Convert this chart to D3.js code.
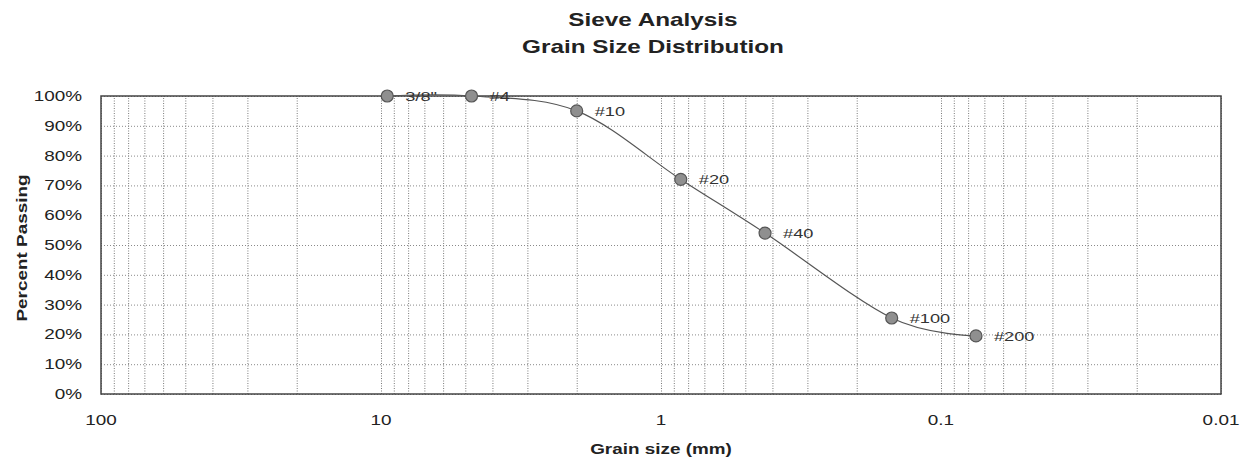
<!DOCTYPE html>
<html>
<head>
<meta charset="utf-8">
<script src="https://cdn.jsdelivr.net/npm/d3@7"></script>
<style>
  body { margin: 0; background: #fff; }
  svg { display: block; font-family: "Liberation Sans", Arial, sans-serif; }
</style>
</head>
<body>
<svg width="1250" height="472"></svg>
<script>
// sieve data
const sieves = ['3/8"', "#4", "#10", "#20", "#40", "#100", "#200"];
const grainSize = [9.5, 4.75, 2.0, 0.85, 0.425, 0.15, 0.075];
const percentPassing = [100, 100, 95, 72, 54, 25.5, 19.5];

const xTicks = [100, 10, 1, 0.1, 0.01];
const yTicks = [0, 10, 20, 30, 40, 50, 60, 70, 80, 90, 100];

const plotLeft = 101, plotRight = 1221, plotTop = 96, plotBottom = 394;
const stretch = 1.35;   // text in the scan is wide

const svg = d3.select("svg");

const x = d3.scaleLog().domain([100, 0.01]).range([plotLeft, plotRight]);
const y = d3.scaleLinear().domain([0, 100]).range([plotBottom, plotTop]);

// places text at (px,py) and stretches it horizontally
function stretched(sel, px, py) {
    return sel.attr("transform", (d, i) => `translate(${px(d, i)},${py(d, i)}) scale(${stretch},1)`);
}

// grid
svg.append("g")
    .attr("transform", `translate(0,${plotBottom})`)
    .call(d3.axisBottom(x).tickSize(-(plotBottom - plotTop)).tickFormat(""))
    .call(g => g.select(".domain").remove())
    .call(g => g.selectAll("line")
        .attr("stroke", "#7a7a7a")
        .attr("stroke-dasharray", "1,1.5"));

svg.append("g")
    .attr("transform", `translate(${plotLeft},0)`)
    .call(d3.axisLeft(y).tickValues(yTicks).tickSize(-(plotRight - plotLeft)).tickFormat(""))
    .call(g => g.select(".domain").remove())
    .call(g => g.selectAll("line")
        .attr("stroke", "#8a8a8a")
        .attr("stroke-dasharray", "1,2"));

// frame
svg.append("rect")
    .attr("x", plotLeft).attr("y", plotTop)
    .attr("width", plotRight - plotLeft).attr("height", plotBottom - plotTop)
    .attr("fill", "none")
    .attr("stroke", "#444")
    .attr("stroke-width", 1.5);

// tick labels
svg.append("g").selectAll("text")
    .data(yTicks)
    .join("text")
    .call(stretched, () => 82, d => y(d))
    .attr("text-anchor", "end")
    .attr("dy", "0.35em")
    .attr("font-size", 14)
    .attr("fill", "#222")
    .text(d => d + "%");

svg.append("g").selectAll("text")
    .data(xTicks)
    .join("text")
    .call(stretched, d => x(d), () => 420)
    .attr("text-anchor", "middle")
    .attr("dy", "0.35em")
    .attr("font-size", 14)
    .attr("fill", "#222")
    .text(d3.format("~g"));

// titles
svg.append("g").selectAll("text")
    .data(["Sieve Analysis", "Grain Size Distribution"])
    .join("text")
    .call(stretched, () => 653, (d, i) => 20 + i * 27)
    .attr("text-anchor", "middle")
    .attr("dy", "0.35em")
    .attr("font-size", 18)
    .attr("font-weight", "bold")
    .attr("fill", "#222")
    .text(d => d);

svg.append("text")
    .attr("transform", `translate(661,449) scale(${stretch},1)`)
    .attr("text-anchor", "middle")
    .attr("dy", "0.35em")
    .attr("font-size", 14)
    .attr("font-weight", "bold")
    .attr("fill", "#222")
    .text("Grain size (mm)");

svg.append("text")
    .attr("transform", `translate(22,248) rotate(-90) scale(${stretch},1)`)
    .attr("text-anchor", "middle")
    .attr("dy", "0.35em")
    .attr("font-size", 14)
    .attr("font-weight", "bold")
    .attr("fill", "#222")
    .text("Percent Passing");

// curve
const points = grainSize.map((g, i) => ({ size: g, pct: percentPassing[i], name: sieves[i] }));

svg.append("path")
    .datum(points)
    .attr("fill", "none")
    .attr("stroke", "#555")
    .attr("stroke-width", 1.2)
    .attr("d", d3.line()
        .x(d => x(d.size))
        .y(d => y(d.pct))
        .curve(d3.curveCardinal.tension(0)));

svg.append("g").selectAll("circle")
    .data(points)
    .join("circle")
    .attr("cx", d => x(d.size))
    .attr("cy", d => y(d.pct))
    .attr("r", 6)
    .attr("fill", "#8f8f8f")
    .attr("stroke", "#555")
    .attr("stroke-width", 1.2);

svg.append("g").selectAll("text")
    .data(points)
    .join("text")
    .call(stretched, d => x(d.size) + 18, d => y(d.pct))
    .attr("dy", "0.35em")
    .attr("font-size", 13.5)
    .attr("fill", "#333")
    .text(d => d.name);
</script>
</body>
</html>
